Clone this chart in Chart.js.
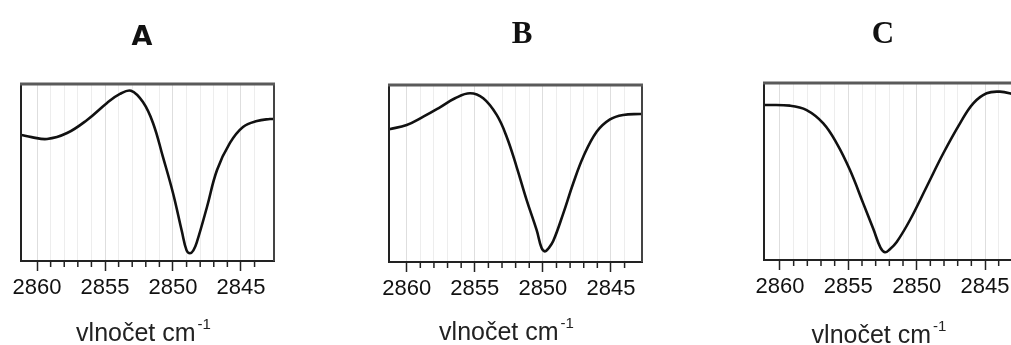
<!DOCTYPE html>
<html><head><meta charset="utf-8">
<script src="https://cdn.jsdelivr.net/npm/chart.js@4.4.0/dist/chart.umd.min.js"></script>
<style>
html,body{margin:0;padding:0;background:#fff;overflow:hidden;width:1011px;height:345px;position:relative;}
.p{position:absolute;top:0;height:345px;width:300px;}
</style></head><body>
<div class="p" style="left:0px"><canvas id="ca"></canvas></div>
<div class="p" style="left:370px"><canvas id="cb"></canvas></div>
<div class="p" style="left:740px"><canvas id="cc"></canvas></div>
<script>
// ---- data ----
const panelTitles = ['A', 'B', 'C'];
const axisTitleMain = 'vlnočet cm';
const axisTitleSup = '-1';
const majorTickValues = [2860, 2855, 2850, 2845];

const wavenumbersA = [2861.18, 2860.4, 2859.26, 2857.79, 2856.32, 2854.85, 2853.90, 2853.09, 2852.21, 2851.47, 2850.74, 2850.0, 2849.34, 2849.0, 2848.75, 2848.5, 2848.24, 2847.5, 2846.76, 2845.81, 2844.85, 2843.82, 2842.87, 2842.57];
const signalA      = [71.2, 70.0, 68.9, 72.3, 79.7, 89.3, 94.4, 96.2, 89.8, 78.0, 58.8, 38.4, 16.5, 6.0, 4.4, 6.0, 10.8, 30.5, 51.4, 66.7, 75.7, 79.1, 80.2, 80.2];

const wavenumbersB = [2861.3, 2860.0, 2858.78, 2857.56, 2856.45, 2855.35, 2854.38, 2853.39, 2852.66, 2851.93, 2851.19, 2850.46, 2850.1, 2849.85, 2849.6, 2849.24, 2848.50, 2847.77, 2847.03, 2846.05, 2845.07, 2844.10, 2842.87, 2842.72];
const signalB      = [75.0, 77.4, 82.1, 87.4, 92.5, 95.3, 92.5, 83.1, 70.8, 53.8, 35.0, 18.1, 8.0, 6.0, 7.6, 11.8, 27.5, 44.5, 59.5, 73.6, 80.6, 83.1, 83.6, 83.6];

const wavenumbersC = [2861.17, 2859.27, 2858.05, 2856.83, 2855.85, 2854.88, 2853.91, 2853.17, 2852.65, 2852.32, 2852.0, 2851.46, 2850.49, 2849.27, 2848.05, 2846.83, 2845.86, 2844.88, 2843.91, 2843.05, 2842.66];
const signalC      = [87.6, 87.2, 84.7, 77.2, 65.9, 50.8, 32.0, 17.5, 7.0, 4.4, 5.8, 10.2, 22.6, 41.4, 60.3, 77.2, 88.5, 94.2, 95.1, 93.8, 92.5];

const xRanges = [[2842.57, 2861.18], [2842.72, 2861.3], [2842.66, 2861.17]];

// ---- styling / layout ----
const panelLayout = [
  {canvas: 'ca', pad: {left: 21, right: 26, top: 84, bottom: 44}, titleFont: 'bold 27px "DejaVu Sans"', titleDx: -5.5, titleBase: 45, axDx: -4, axBase: 341},
  {canvas: 'cb', pad: {left: 19, right: 28, top: 85, bottom: 43}, titleFont: 'bold 31px "Liberation Serif"', titleDx: 6.5, titleBase: 43, axDx: -9, axBase: 340},
  {canvas: 'cc', pad: {left: 24, right: 23, top: 83, bottom: 45}, titleFont: 'bold 31px "Liberation Serif"', titleDx: -7.5, titleBase: 43, axDx: -11.5, axBase: 343}
];

const decorPlugin = {
  id: 'decor',
  afterDraw(chart, args, o) {
    const ctx = chart.ctx, a = chart.chartArea, sx = chart.scales.x;
    ctx.save();
    // minor ticks
    ctx.strokeStyle = '#222'; ctx.lineWidth = 1.5;
    sx.ticks.forEach(t => {
      if (Number.isInteger(t.value) && t.value % 5 !== 0) {
        const px = sx.getPixelForValue(t.value);
        ctx.beginPath(); ctx.moveTo(px, a.bottom); ctx.lineTo(px, a.bottom + 6); ctx.stroke();
      }
    });
    // frame
    ctx.lineWidth = 2;
    ctx.strokeStyle = '#222';
    ctx.beginPath(); ctx.moveTo(a.left, a.top); ctx.lineTo(a.left, a.bottom); ctx.stroke();
    ctx.strokeStyle = '#444';
    ctx.beginPath(); ctx.moveTo(a.right, a.top); ctx.lineTo(a.right, a.bottom); ctx.stroke();
    ctx.strokeStyle = '#5a5a5a'; ctx.lineWidth = 3;
    ctx.beginPath(); ctx.moveTo(a.left - 1, a.top); ctx.lineTo(a.right + 1, a.top); ctx.stroke();
    // panel title
    const cx = (a.left + a.right) / 2;
    ctx.fillStyle = '#111';
    ctx.textAlign = 'center'; ctx.textBaseline = 'alphabetic';
    ctx.font = o.titleFont;
    ctx.fillText(o.title, cx + o.titleDx, o.titleBase);
    // axis title with superscript
    ctx.font = '25px "Liberation Sans"';
    const wMain = ctx.measureText(o.axMain).width;
    ctx.font = '15px "Liberation Sans"';
    const wSup = ctx.measureText(o.axSup).width;
    const start = cx + o.axDx - (wMain + 2 + wSup) / 2;
    ctx.textAlign = 'left';
    ctx.fillStyle = '#222';
    ctx.font = '25px "Liberation Sans"';
    ctx.fillText(o.axMain, start, o.axBase);
    ctx.font = '15px "Liberation Sans"';
    ctx.fillText(o.axSup, start + wMain + 2, o.axBase - 12);
    ctx.restore();
  }
};

const wavenumbers = [wavenumbersA, wavenumbersB, wavenumbersC];
const signals = [signalA, signalB, signalC];

panelLayout.forEach((pl, i) => {
  const pts = wavenumbers[i].map((w, k) => ({x: w, y: signals[i][k]}));
  new Chart(document.getElementById(pl.canvas), {
    type: 'line',
    data: {datasets: [{
      data: pts, borderColor: '#111', borderWidth: 2.6, pointRadius: 0,
      tension: 0.4, fill: false
    }]},
    options: {
      responsive: true, maintainAspectRatio: false, animation: false,
      layout: {padding: pl.pad},
      plugins: {
        legend: {display: false}, tooltip: {enabled: false}, title: {display: false},
        decor: {title: panelTitles[i], titleFont: pl.titleFont, titleDx: pl.titleDx, titleBase: pl.titleBase,
                axMain: axisTitleMain, axSup: axisTitleSup, axDx: pl.axDx, axBase: pl.axBase}
      },
      scales: {
        x: {
          type: 'linear', reverse: true, min: xRanges[i][0], max: xRanges[i][1],
          afterFit: s => { s.height = 40; },
          border: {display: true, color: '#222', width: 2},
          grid: {
            drawOnChartArea: true, drawTicks: true, tickLength: 10, tickWidth: 1.5,
            color: c => (c.tick && Number.isInteger(c.tick.value)) ? (c.tick.value % 5 === 0 ? 'rgba(0,0,0,0.13)' : 'rgba(0,0,0,0.07)') : 'rgba(0,0,0,0)',
            tickColor: c => (c.tick && majorTickValues.includes(c.tick.value)) ? '#222' : 'rgba(0,0,0,0)',
            lineWidth: 1
          },
          ticks: {
            stepSize: 1, autoSkip: false, maxRotation: 0, minRotation: 0, padding: 4,
            color: '#111', font: {family: '"Liberation Sans"', size: 22},
            callback: v => majorTickValues.includes(v) ? String(v) : ''
          }
        },
        y: {display: false, min: 0, max: 100}
      }
    },
    plugins: [decorPlugin]
  });
});
</script>
</body></html>
